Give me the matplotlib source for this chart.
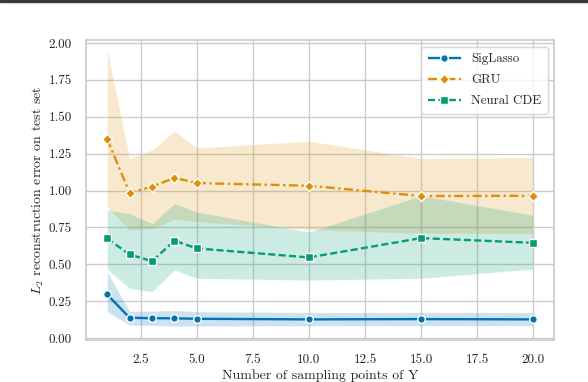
import numpy as np
import matplotlib
matplotlib.use("Agg")
import matplotlib.pyplot as plt
import seaborn as sns
from matplotlib.patches import Rectangle

# === Daten ===
n_points = [1, 2, 3, 4, 5, 10, 15, 20]

siglasso_mean = [0.296, 0.138, 0.135, 0.134, 0.131, 0.127, 0.129, 0.127]
siglasso_low = [0.178, 0.088, 0.086, 0.082, 0.082, 0.083, 0.084, 0.084]
siglasso_high = [0.450, 0.183, 0.183, 0.188, 0.180, 0.174, 0.175, 0.174]

gru_mean = [1.351, 0.985, 1.026, 1.087, 1.051, 1.033, 0.963, 0.965]
gru_low = [0.890, 0.732, 0.742, 0.806, 0.789, 0.735, 0.710, 0.710]
gru_high = [1.957, 1.218, 1.275, 1.403, 1.290, 1.335, 1.218, 1.225]

cde_mean = [0.676, 0.567, 0.522, 0.660, 0.608, 0.547, 0.678, 0.646]
cde_low = [0.466, 0.337, 0.314, 0.461, 0.405, 0.393, 0.405, 0.468]
cde_high = [0.870, 0.845, 0.778, 0.913, 0.856, 0.720, 0.967, 0.834]

# === Stil ===
sns.set_theme(style="whitegrid")
plt.rcParams["font.family"] = ["cmr10", "DejaVu Serif"]
plt.rcParams["mathtext.fontset"] = "cm"
plt.rcParams["axes.formatter.use_mathtext"] = True
plt.rcParams["axes.unicode_minus"] = False

pal = sns.color_palette("colorblind")
c_sig, c_gru, c_cde = pal[0], pal[1], pal[2]

fig = plt.figure(figsize=(5.88, 3.82), dpi=100)
ax = fig.add_axes([0.146, 0.111, 0.797, 0.784])

series = [
    ("SigLasso", siglasso_mean, siglasso_low, siglasso_high, c_sig, (0, ()), "o", 5.5),
    ("GRU", gru_mean, gru_low, gru_high, c_gru, (0, (3.8, 1.5, 1.0, 1.5)), "D", 5.5),
    ("Neural CDE", cde_mean, cde_low, cde_high, c_cde, (0, (3.0, 1.4)), "s", 5.5),
]

for label, mean, low, high, col, ls, mk, ms in series:
    ax.fill_between(n_points, low, high, color=col, alpha=0.2, linewidth=0.8,
                    edgecolor="white")
    ax.plot(n_points, mean, color=col, linestyle=ls, marker=mk, markersize=ms,
            markeredgecolor="white", markeredgewidth=1.0, linewidth=1.7,
            label=label)

ax.set_ylim(-0.01, 2.02)
ax.set_xticks([2.5, 5.0, 7.5, 10.0, 12.5, 15.0, 17.5, 20.0])
ax.set_yticks(np.arange(0, 2.01, 0.25))
ax.set_xticklabels([f"{v:.1f}" for v in ax.get_xticks()])
ax.set_yticklabels([f"{v:.2f}" for v in ax.get_yticks()])
ax.tick_params(labelsize=9.5, pad=4)

ax.set_xlabel("Number of sampling points of Y", fontsize=10, labelpad=3)
ax.set_ylabel("$L_2$ reconstruction error on test set", fontsize=10, labelpad=2)

leg = ax.legend(loc="upper right", fontsize=9.3, frameon=True, framealpha=0.8,
                handlelength=2.6, labelspacing=0.7, borderpad=0.5)

# dunkler Rand oben im Original
fig.add_artist(Rectangle((0, 1 - 2 / 382), 1, 2 / 382, transform=fig.transFigure,
                         color="#3a3a3a", zorder=10))

fig.savefig("out.png", dpi=100)
